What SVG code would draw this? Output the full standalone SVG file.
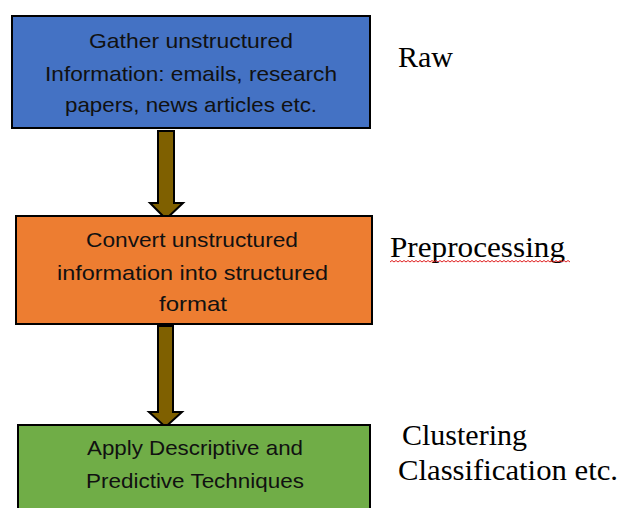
<svg xmlns="http://www.w3.org/2000/svg" width="621" height="508" viewBox="0 0 621 508">
<style>
.box{stroke:#000;stroke-width:2}
.t{font-family:"Liberation Sans",Arial,sans-serif;font-size:21px;fill:#111;text-anchor:middle}
.side{font-family:"Liberation Serif","Times New Roman",serif;font-size:30px;fill:#000}
.arrow{fill:#7F6000;stroke:#000;stroke-width:2;stroke-linejoin:miter}
</style>
<rect width="621" height="508" fill="#fff"/>
<g id="connectors">
<polygon class="arrow" points="158,131 174,131 174,203 183,203 166,219 150,203 158,203"/>
<polygon class="arrow" points="158,326 173,326 173,412 182,412 165.5,427 149,412 158,412"/>
</g>
<g id="node-gather">
<rect class="box" x="12" y="16" width="358" height="112" fill="#4472C4"/>
<text class="t" x="191" y="48" textLength="204" lengthAdjust="spacingAndGlyphs">Gather unstructured</text>
<text class="t" x="191" y="81" textLength="292" lengthAdjust="spacingAndGlyphs">Information: emails, research</text>
<text class="t" x="191" y="112" textLength="252" lengthAdjust="spacingAndGlyphs">papers, news articles etc.</text>
</g>
<g id="node-convert">
<rect class="box" x="16" y="216" width="356" height="108" fill="#ED7D31"/>
<text class="t" x="192" y="247" textLength="212" lengthAdjust="spacingAndGlyphs">Convert unstructured</text>
<text class="t" x="192.5" y="280" textLength="271" lengthAdjust="spacingAndGlyphs">information into structured</text>
<text class="t" x="193" y="311" textLength="68" lengthAdjust="spacingAndGlyphs">format</text>
</g>
<g id="node-apply">
<rect class="box" x="18" y="425" width="352" height="92" fill="#70AD47"/>
<text class="t" x="195" y="455" textLength="216" lengthAdjust="spacingAndGlyphs">Apply Descriptive and</text>
<text class="t" x="195" y="488" textLength="218" lengthAdjust="spacingAndGlyphs">Predictive Techniques</text>
</g>
<g id="label-raw">
<text class="side" x="398" y="67">Raw</text>
</g>
<g id="label-preprocessing">
<text class="side" x="390" y="257" textLength="175" lengthAdjust="spacingAndGlyphs">Preprocessing</text>
<path d="M390,262 l2,-1.5 l2,1.5 l2,-1.5 l2,1.5 l2,-1.5 l2,1.5 l2,-1.5 l2,1.5 l2,-1.5 l2,1.5 l2,-1.5 l2,1.5 l2,-1.5 l2,1.5 l2,-1.5 l2,1.5 l2,-1.5 l2,1.5 l2,-1.5 l2,1.5 l2,-1.5 l2,1.5 l2,-1.5 l2,1.5 l2,-1.5 l2,1.5 l2,-1.5 l2,1.5 l2,-1.5 l2,1.5 l2,-1.5 l2,1.5 l2,-1.5 l2,1.5 l2,-1.5 l2,1.5 l2,-1.5 l2,1.5 l2,-1.5 l2,1.5 l2,-1.5 l2,1.5 l2,-1.5 l2,1.5 l2,-1.5 l2,1.5 l2,-1.5 l2,1.5 l2,-1.5 l2,1.5 l2,-1.5 l2,1.5 l2,-1.5 l2,1.5 l2,-1.5 l2,1.5 l2,-1.5 l2,1.5 l2,-1.5 l2,1.5 l2,-1.5 l2,1.5 l2,-1.5 l2,1.5 l2,-1.5 l2,1.5 l2,-1.5 l2,1.5 l2,-1.5 l2,1.5 l2,-1.5 l2,1.5 l2,-1.5 l2,1.5 l2,-1.5 l2,1.5 l2,-1.5 l2,1.5 l2,-1.5 l2,1.5 l2,-1.5 l2,1.5 l2,-1.5 l2,1.5 l2,-1.5 l2,1.5 l2,-1.5 l2,1.5 l2,-1.5 l2,1.5" fill="none" stroke="#E02020" stroke-width="1"/>
</g>
<g id="label-clustering">
<text class="side" x="402" y="445">Clustering</text>
<text class="side" x="398" y="480" textLength="220" lengthAdjust="spacingAndGlyphs">Classification etc.</text>
</g>
</svg>
